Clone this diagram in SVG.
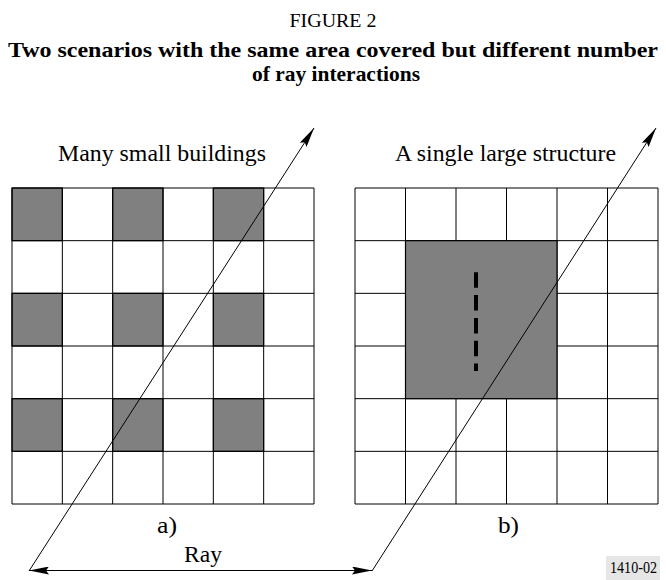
<svg xmlns="http://www.w3.org/2000/svg" width="666" height="580" viewBox="0 0 666 580">
<style>
.t{font-family:"Liberation Serif","Times New Roman",serif;fill:#000}
.tb{font-family:"Liberation Serif","Times New Roman",serif;font-weight:bold;fill:#000}
.g{stroke:#000;stroke-width:1;fill:none}
.s{fill:#808080;stroke:#000;stroke-width:1.2}
.ray{stroke:#000;stroke-width:1;fill:none}
</style>
<defs>
<marker id="ah" viewBox="0 0 20 8" refX="20" refY="4" markerWidth="20" markerHeight="8" markerUnits="userSpaceOnUse" orient="auto-start-reverse">
<path d="M0,0 L20,4 L0,8 L3,4 z" fill="#000"/>
</marker>
</defs>
<rect width="666" height="580" fill="#fff"/>
<g id="title">
<text class="t" x="333" y="27" font-size="19" text-anchor="middle" textLength="87" lengthAdjust="spacingAndGlyphs">FIGURE 2</text>
<text class="tb" x="8" y="57" font-size="22" textLength="650" lengthAdjust="spacingAndGlyphs">Two scenarios with the same area covered but different number</text>
<text class="tb" x="252" y="81" font-size="22" textLength="168" lengthAdjust="spacingAndGlyphs">of ray interactions</text>
</g>
<g id="panel-a">
<text class="t" x="58" y="161" font-size="24" textLength="208" lengthAdjust="spacingAndGlyphs">Many small buildings</text>
<g>
<rect class="s" x="12" y="188" width="50.33" height="52.67"/>
<rect class="s" x="112.67" y="188" width="50.33" height="52.67"/>
<rect class="s" x="213.33" y="188" width="50.33" height="52.67"/>
<rect class="s" x="12" y="293.33" width="50.33" height="52.67"/>
<rect class="s" x="112.67" y="293.33" width="50.33" height="52.67"/>
<rect class="s" x="213.33" y="293.33" width="50.33" height="52.67"/>
<rect class="s" x="12" y="398.67" width="50.33" height="52.67"/>
<rect class="s" x="112.67" y="398.67" width="50.33" height="52.67"/>
<rect class="s" x="213.33" y="398.67" width="50.33" height="52.67"/>
</g>
<path class="g" d="M12,188H314V504H12Z M62.33,188V504 M112.67,188V504 M163,188V504 M213.33,188V504 M263.67,188V504 M12,240.67H314 M12,293.33H314 M12,346H314 M12,398.67H314 M12,451.33H314"/>
<text class="t" x="157" y="533" font-size="24" textLength="20" lengthAdjust="spacingAndGlyphs">a)</text>
</g>
<g id="panel-b">
<text class="t" x="395" y="161" font-size="24" textLength="221" lengthAdjust="spacingAndGlyphs">A single large structure</text>
<path class="g" d="M355,188H658V504H355Z M405.5,188V504 M456,188V504 M506.5,188V504 M557,188V504 M607.5,188V504 M355,240.67H658 M355,293.33H658 M355,346H658 M355,398.67H658 M355,451.33H658"/>
<rect class="s" x="405.5" y="240.67" width="151.5" height="158"/>
<line x1="476" y1="272.3" x2="476" y2="371" stroke="#000" stroke-width="4" stroke-dasharray="15.5 7.3"/>
<text class="t" x="498" y="533" font-size="24" textLength="21" lengthAdjust="spacingAndGlyphs">b)</text>
</g>
<g id="connectors">
<line class="ray" x1="29" y1="571" x2="314" y2="128" marker-end="url(#ah)"/>
<line class="ray" x1="372" y1="571" x2="656" y2="128" marker-end="url(#ah)"/>
<line class="ray" x1="29" y1="570.5" x2="372" y2="570.5" marker-start="url(#ah)" marker-end="url(#ah)"/>
<text class="t" x="184" y="562" font-size="24" textLength="38" lengthAdjust="spacingAndGlyphs">Ray</text>
</g>
<g id="figure-id">
<rect x="606" y="556" width="54" height="24" fill="#e6e6e6"/>
<text class="t" x="610" y="573" font-size="17" textLength="47" lengthAdjust="spacingAndGlyphs">1410-02</text>
</g>
</svg>
